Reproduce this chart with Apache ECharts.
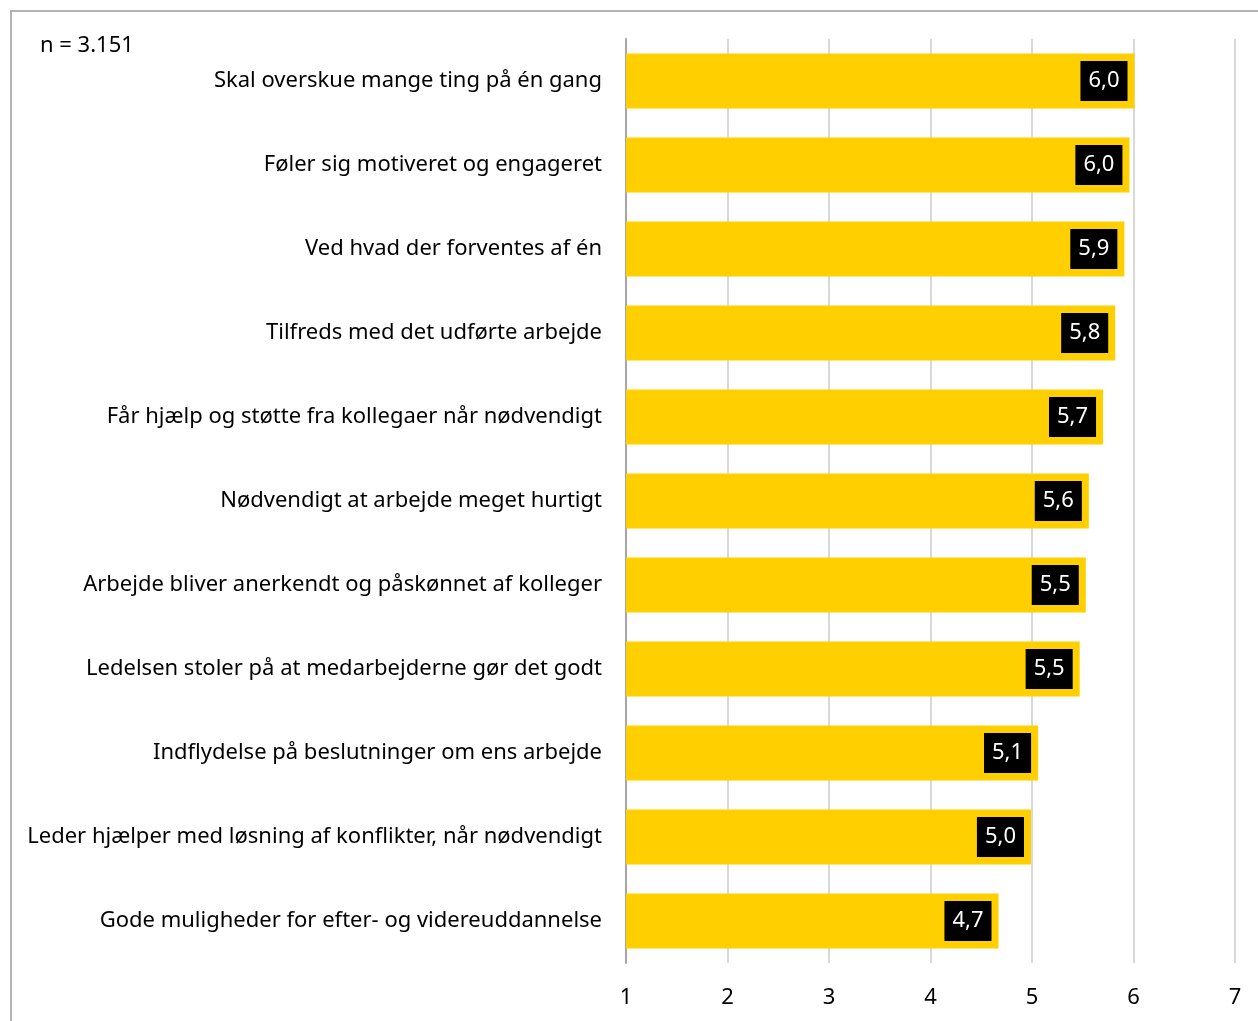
<!DOCTYPE html>
<html>
<head>
<meta charset="utf-8">
<script src="https://cdn.jsdelivr.net/npm/echarts@6/dist/echarts.min.js"></script>
<style>
html,body{margin:0;padding:0;background:#fff;}
#frame{position:absolute;left:10px;top:10px;width:1260px;height:1030px;border-left:2px solid #b3b3b3;border-top:2px solid #b3b3b3;}
#chart{position:absolute;left:0;top:0;width:1258px;height:1021px;}
</style>
</head>
<body>
<div id="frame"></div>
<div id="chart"></div>
<script>
const categories = [
  "Skal overskue mange ting på én gang",
  "Føler sig motiveret og engageret",
  "Ved hvad der forventes af én",
  "Tilfreds med det udførte arbejde",
  "Får hjælp og støtte fra kollegaer når nødvendigt",
  "Nødvendigt at arbejde meget hurtigt",
  "Arbejde bliver anerkendt og påskønnet af kolleger",
  "Ledelsen stoler på at medarbejderne gør det godt",
  "Indflydelse på beslutninger om ens arbejde",
  "Leder hjælper med løsning af konflikter, når nødvendigt",
  "Gode muligheder for efter- og videreuddannelse"
];
const values = [6.01, 5.96, 5.91, 5.82, 5.70, 5.56, 5.53, 5.47, 5.06, 4.99, 4.67];
const axisMin = 1, axisMax = 7;
const noteText = "n = 3.151";

const chart = echarts.init(document.getElementById('chart'), null, {renderer:'canvas'});
const font = '"Noto Sans", "Open Sans", sans-serif';
chart.setOption({
  animation:false,
  backgroundColor:'transparent',
  graphic:[{type:'text', left:40, top:35, style:{text:noteText, font:'22px '+font, fill:'#000'}}],
  grid:{left:626, right:23, top:39, bottom:58, containLabel:false},
  xAxis:{type:'value', min:axisMin, max:axisMax, interval:1,
    axisLine:{show:false}, axisTick:{show:false},
    splitLine:{show:true, lineStyle:{color:'#d9d9d9', width:2}},
    axisLabel:{fontSize:22, fontFamily:font, color:'#000', margin:24}},
  yAxis:{type:'category', data:categories, inverse:true,
    axisLine:{show:true, lineStyle:{color:'#a6a6a6', width:2}},
    axisTick:{show:false},
    axisLabel:{fontSize:22, fontFamily:font, color:'#000', margin:24}},
  series:[{type:'bar', data:values, barWidth:55, itemStyle:{color:'#ffcf00'},
    label:{show:true, position:'insideRight', distance:7,
      formatter:p=>p.value.toFixed(1).replace('.',','),
      backgroundColor:'#000', color:'#fff', fontSize:22, fontFamily:font,
      padding:[9,8,9,8]}}]
});
</script>
</body>
</html>
